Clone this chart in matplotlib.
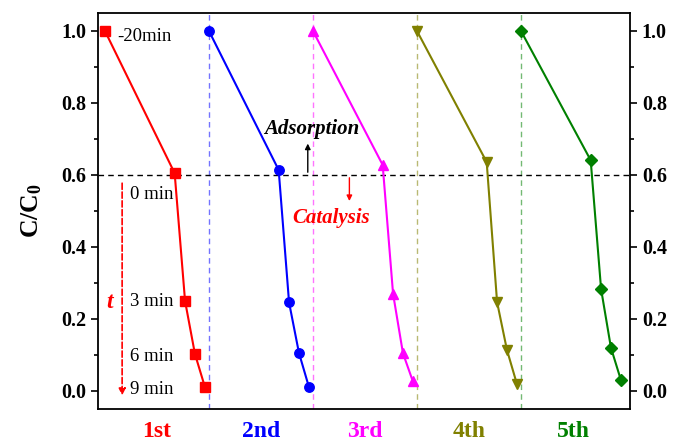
import numpy as np
import matplotlib.pyplot as plt

plt.rcParams['font.family'] = ['Liberation Serif', 'DejaVu Serif']
plt.rcParams['mathtext.fontset'] = 'custom'
plt.rcParams['mathtext.rm'] = 'Liberation Serif'
plt.rcParams['mathtext.bf'] = 'Liberation Serif:bold'

# data
cycles = ['1st', '2nd', '3rd', '4th', '5th']
colors = ['#ff0000', '#0000ff', '#ff00ff', '#808000', '#008000']
markers = ['s', 'o', '^', 'v', 'D']
time_pos = [0.0, 0.67, 0.77, 0.865, 0.96]   # -20, 0, 3, 6, 9 min
time_labels = ['-20min', '0 min', '3 min', '6 min', '9 min']
c1 = [1.0, 0.605, 0.25, 0.103, 0.012]
c2 = [1.0, 0.614, 0.246, 0.106, 0.012]
c3 = [1.0, 0.628, 0.27, 0.105, 0.027]
c4 = [1.0, 0.636, 0.247, 0.114, 0.02]
c5 = [1.0, 0.641, 0.283, 0.12, 0.031]
series = [c1, c2, c3, c4, c5]

fig = plt.figure(figsize=(6.73, 4.41), dpi=100)
ax = fig.add_axes([98/673, 1 - 409/441, 532/673, 396/441])

for k, (vals, col, mk) in enumerate(zip(series, colors, markers)):
    x = np.array(time_pos) + k
    ms = 6.8 if mk != 'D' else 6
    ax.plot(x, vals, color=col, marker=mk, markersize=ms, linewidth=1.5, zorder=3)
    if k > 0:
        ax.axvline(k, color=col, linestyle='--', linewidth=1, alpha=0.55, dashes=(4, 3), zorder=1)
    ax.text(k + 0.5, -0.113, cycles[k], color=col, fontsize=17, fontweight='bold',
            ha='center', va='center', clip_on=False)

ax.axhline(0.6, color='black', linestyle='--', linewidth=1, dashes=(4, 3), zorder=1)

# time labels for first cycle
ax.text(0.12, 0.985, time_labels[0], fontsize=13.5, ha='left', va='center')
for lab, yv in zip(time_labels[1:], [0.545, 0.25, 0.095, 0.005]):
    ax.text(0.24, yv, lab, fontsize=13.5, ha='left', va='center')
ax.annotate('', xy=(0.165, -0.02), xytext=(0.165, 0.585),
            arrowprops=dict(arrowstyle='-|>', color='#ff0000', linestyle='--', lw=1.2,
                            mutation_scale=10))
ax.text(0.045, 0.245, 't', color='#ff0000', fontsize=17, fontweight='bold',
        style='italic', ha='center', va='center')

# adsorption / catalysis
ax.annotate('', xy=(1.95, 0.695), xytext=(1.95, 0.6),
            arrowprops=dict(arrowstyle='-|>', color='black', lw=1, mutation_scale=8))
ax.text(1.99, 0.727, 'Adsorption', fontsize=15, fontweight='bold', style='italic',
        ha='center', va='center')
ax.annotate('', xy=(2.35, 0.52), xytext=(2.35, 0.6),
            arrowprops=dict(arrowstyle='-|>', color='#ff0000', lw=1, mutation_scale=8))
ax.text(2.17, 0.48, 'Catalysis', fontsize=15, fontweight='bold', style='italic',
        color='#ff0000', ha='center', va='center')

ax.set_xlim(-0.067, 5.048)
ax.set_ylim(-0.05, 1.05)
ax.set_xticks([])
ax.set_yticks(np.arange(0, 1.01, 0.2))
ax.set_yticks(np.arange(0.1, 1.0, 0.2), minor=True)
ax.tick_params(axis='y', which='both', direction='out', left=True, right=True,
               labelleft=True, labelright=True, width=1.2, labelsize=14.5)
ax.tick_params(axis='y', which='major', length=5)
ax.tick_params(axis='y', which='minor', length=3)
for lab in ax.get_yticklabels():
    lab.set_fontweight('bold')
for sp in ax.spines.values():
    sp.set_linewidth(1.3)
ax.set_ylabel(r'$\mathbf{C/C_0}$', fontsize=18.5, labelpad=12)

fig.savefig('out.png', dpi=100)
